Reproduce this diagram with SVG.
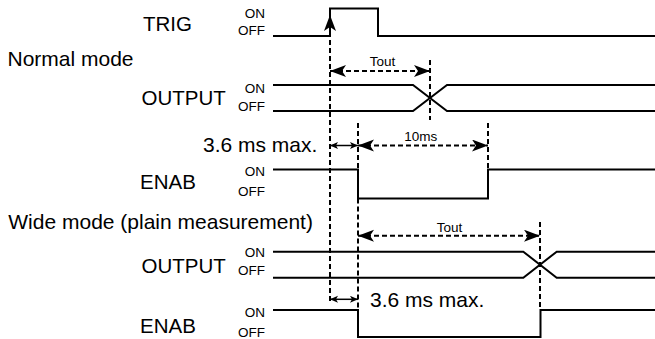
<svg xmlns="http://www.w3.org/2000/svg" width="655" height="339" viewBox="0 0 655 339">
<style>
text{font-family:"Liberation Sans",Arial,Helvetica,sans-serif;fill:#000}
.lbl{font-size:20.5px}
.big{font-size:21px}
.sm{font-size:13.5px;text-anchor:end}
.mid{font-size:13.5px;text-anchor:middle}
.sig{fill:none;stroke:#000;stroke-width:2}
.dash{fill:none;stroke:#000;stroke-width:2;stroke-dasharray:5 3}
.thin{fill:none;stroke:#000;stroke-width:1.5}
</style>
<defs>
<marker id="st" markerUnits="userSpaceOnUse" markerWidth="17" markerHeight="13" refX="16" refY="6" orient="auto-start-reverse" viewBox="0 0 17 13">
<path d="M0,0 L16,6 L0,12 L4,6 z" fill="#000"/>
</marker>
<marker id="sa" markerUnits="userSpaceOnUse" markerWidth="9" markerHeight="8" refX="8" refY="3.5" orient="auto-start-reverse" viewBox="0 0 9 8">
<path d="M0,0 L8,3.5 L0,7 L2,3.5 z" fill="#000"/>
</marker>
</defs>
<g id="labels">
<text class="big" x="7.5" y="66">Normal mode</text>
<text class="big" x="8.3" y="229.3">Wide mode (plain measurement)</text>
</g>
<g id="trig">
<text class="lbl" x="143" y="31">TRIG</text>
<text class="sm" x="265" y="18.3">ON</text>
<text class="sm" x="265" y="35">OFF</text>
<path class="sig" d="M273,36 H330 V8.5 H378 V36 H655"/>
</g>
<g id="output-normal">
<text class="lbl" x="141.5" y="104.5">OUTPUT</text>
<text class="sm" x="265" y="92.7">ON</text>
<text class="sm" x="265" y="110.7">OFF</text>
<path class="sig" d="M273,85 H413 L447,111 H655"/>
<path class="sig" d="M273,111 H413 L447,85 H655"/>
</g>
<g id="enab-normal">
<text class="lbl" x="140" y="188.5">ENAB</text>
<text class="sm" x="265" y="176">ON</text>
<text class="sm" x="265" y="196">OFF</text>
<path class="sig" d="M273,169.5 H358 V198.5 H488 V169.5 H655"/>
</g>
<g id="output-wide">
<text class="lbl" x="141.5" y="272.7">OUTPUT</text>
<text class="sm" x="265" y="257.3">ON</text>
<text class="sm" x="265" y="275">OFF</text>
<path class="sig" d="M273,251.7 H523.3 L556.7,277.7 H655"/>
<path class="sig" d="M273,277.7 H523.3 L556.7,251.7 H655"/>
</g>
<g id="enab-wide">
<text class="lbl" x="140" y="332.7">ENAB</text>
<text class="sm" x="265" y="316.7">ON</text>
<text class="sm" x="265" y="336.7">OFF</text>
<path class="sig" d="M273,310 H358 V337 H540.5 V310 H655"/>
</g>
<g id="connectors">
<path class="dash" d="M330,301 V15" marker-end="url(#st)"/>
<path class="dash" d="M430,60 V120"/>
<path class="dash" d="M358,123 V169.5"/>
<path class="dash" d="M358,198.5 V310"/>
<path class="dash" d="M488,123 V169.5"/>
<path class="dash" d="M540,222 V310"/>
<path class="dash" d="M330,71 H430" marker-start="url(#st)" marker-end="url(#st)"/>
<text class="mid" x="382.5" y="65.7">Tout</text>
<path class="dash" d="M358,145.5 H488" marker-start="url(#st)" marker-end="url(#st)"/>
<text class="mid" x="420.8" y="140.7">10ms</text>
<path class="thin" d="M330,145.5 H358" marker-start="url(#sa)" marker-end="url(#sa)"/>
<text class="big" x="203" y="151.7">3.6 ms max.</text>
<path class="dash" d="M358,235.7 H540" marker-start="url(#st)" marker-end="url(#st)"/>
<text class="mid" x="449.5" y="231.7">Tout</text>
<path class="thin" d="M330,299.3 H358" marker-start="url(#sa)" marker-end="url(#sa)"/>
<text class="big" x="370" y="306.7">3.6 ms max.</text>
</g>
</svg>
